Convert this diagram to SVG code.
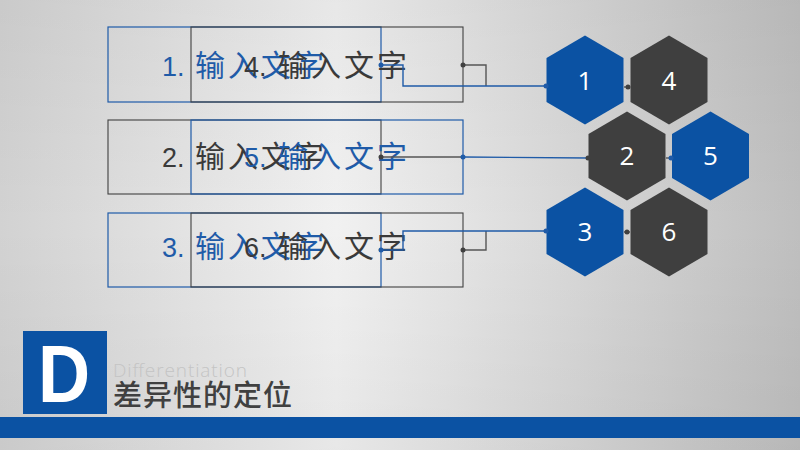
<svg xmlns="http://www.w3.org/2000/svg" width="800" height="450" viewBox="0 0 800 450">
<defs>
<linearGradient id="bg" x1="0" y1="0" x2="1" y2="0">
<stop offset="0" stop-color="#d2d2d2"/>
<stop offset="0.42" stop-color="#f1f1f1"/>
<stop offset="1" stop-color="#bfbfbf"/>
</linearGradient>
<linearGradient id="bgv" x1="0" y1="0" x2="0" y2="1">
<stop offset="0" stop-color="#000" stop-opacity="0.04"/>
<stop offset="0.5" stop-color="#000" stop-opacity="0"/>
<stop offset="1" stop-color="#000" stop-opacity="0.04"/>
</linearGradient>
<polygon id="hex" points="0,-44.5 38.5,-22 38.5,22 0,44.5 -38.5,22 -38.5,-22"/>
</defs>
<style>
.rb{fill:none;stroke:#1f5ba8;stroke-width:1.2}
.rd{fill:none;stroke:#404040;stroke-width:1.1}
.t{font-family:"Liberation Sans","Noto Sans CJK SC",sans-serif;font-size:27px}
.cj{font-family:"Noto Sans CJK SC",sans-serif;font-size:30px;letter-spacing:3px}
.tb{fill:#1f5ba8}
.td{fill:#3a3a3a}
.hb{fill:#0b52a3}
.hd{fill:#3f3f3f}
.hl{font-family:"Open Sans","Noto Sans",sans-serif;font-size:26px;fill:#ffffff;text-anchor:middle}
.cb{fill:none;stroke:#1f5ba8;stroke-width:1.4}
.cd{fill:none;stroke:#555555;stroke-width:1.4}
.dotb{fill:#1f5ba8}
.dotd{fill:#404040}
</style>
<rect width="800" height="450" fill="url(#bg)"/>
<rect width="800" height="450" fill="url(#bgv)"/>

<g id="box1">
<rect class="rb" x="108" y="27" width="273" height="75"/>
<text class="t tb" y="76"><tspan x="162">1.</tspan><tspan class="cj" x="195">输入文字</tspan></text>
</g>
<g id="box4">
<rect class="rd" x="191" y="27" width="272" height="75"/>
<text class="t td" y="76"><tspan x="244">4.</tspan><tspan class="cj" x="278">输入文字</tspan></text>
</g>
<g id="box2">
<rect class="rd" x="108" y="120" width="273" height="74"/>
<text class="t td" y="167"><tspan x="162">2.</tspan><tspan class="cj" x="195">输入文字</tspan></text>
</g>
<g id="box5">
<rect class="rb" x="191" y="120" width="272" height="74"/>
<text class="t tb" y="167"><tspan x="244">5.</tspan><tspan class="cj" x="278">输入文字</tspan></text>
</g>
<g id="box3">
<rect class="rb" x="108" y="213" width="273" height="74"/>
<text class="t tb" y="257"><tspan x="162">3.</tspan><tspan class="cj" x="195">输入文字</tspan></text>
</g>
<g id="box6">
<rect class="rd" x="191" y="213" width="272" height="74"/>
<text class="t td" y="257"><tspan x="244">6.</tspan><tspan class="cj" x="278">输入文字</tspan></text>
</g>

<g id="hex1"><use href="#hex" class="hb" x="585" y="80"/><text class="hl" x="585" y="90">1</text></g>
<g id="hex4"><use href="#hex" class="hd" x="669" y="80"/><text class="hl" x="669" y="90">4</text></g>
<g id="hex2"><use href="#hex" class="hd" x="627" y="156"/><text class="hl" x="627" y="165">2</text></g>
<g id="hex5"><use href="#hex" class="hb" x="710.5" y="156"/><text class="hl" x="710.5" y="165">5</text></g>
<g id="hex3"><use href="#hex" class="hb" x="585" y="232"/><text class="hl" x="585" y="241">3</text></g>
<g id="hex6"><use href="#hex" class="hd" x="669" y="232"/><text class="hl" x="669" y="241">6</text></g>

<g id="connectors">
<polyline class="cd" points="463,65 486,65 486,86"/>
<polyline class="cb" points="381,65 403,65 403,86 546,86"/>
<line class="cd" x1="381" y1="157" x2="463" y2="157"/>
<line class="cb" x1="463" y1="157" x2="588" y2="158" stroke="#2d4d78"/>
<polyline class="cd" points="463,250 486,250 486,231"/>
<polyline class="cb" points="381,250 403,250 403,231 546,231"/>
<line class="cd" x1="624" y1="87" x2="630" y2="87"/>
<line class="cd" x1="666" y1="158" x2="672" y2="158"/>
<line class="cd" x1="624" y1="232" x2="630" y2="232"/>
<circle class="dotb" cx="381" cy="65" r="2.5"/>
<circle class="dotd" cx="463" cy="65" r="2.5"/>
<circle class="dotb" cx="546" cy="86" r="2.5"/>
<circle class="dotd" cx="381" cy="157" r="2.5"/>
<circle class="dotb" cx="463" cy="157" r="2.5"/>
<circle class="dotd" cx="588" cy="158" r="2.5"/>
<circle class="dotb" cx="381" cy="250" r="2.5"/>
<circle class="dotd" cx="463" cy="250" r="2.5"/>
<circle class="dotb" cx="546" cy="231" r="2.5"/>
<circle class="dotd" cx="628" cy="87" r="2.5"/>
<circle class="dotb" cx="671" cy="158" r="2.5"/>
<circle class="dotd" cx="627" cy="232" r="2.5"/>
</g>

<g id="title">
<rect x="23" y="331" width="84" height="83" fill="#0b52a3"/>
<text x="0" y="0" transform="translate(64 402) scale(0.88 1)" text-anchor="middle" font-family="Liberation Sans,sans-serif" font-weight="bold" font-size="82" fill="#ffffff">D</text>
<text x="113" y="377" font-family="Open Sans,Liberation Sans,sans-serif" font-weight="300" font-size="19" fill="#c4c4c4" textLength="134">Differentiation</text>
<text x="113" y="406" font-family="Noto Sans CJK SC,sans-serif" font-weight="500" font-size="29" fill="#404040" letter-spacing="1">差异性的定位</text>
</g>
<rect x="0" y="417" width="800" height="21" fill="#0b52a3"/>
</svg>
